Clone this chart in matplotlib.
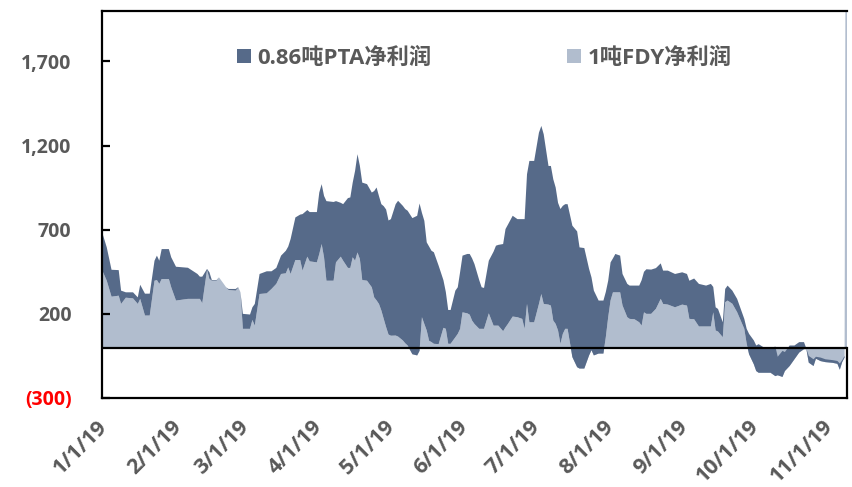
import matplotlib
matplotlib.use("Agg")
import matplotlib.pyplot as plt
import matplotlib.transforms as mtransforms
import pandas as pd
import numpy as np

plt.rcParams['font.family'] = ['Open Sans', 'Noto Sans CJK SC', 'DejaVu Sans']

dates = [
    "2019-01-01", "2019-01-03", "2019-01-05", "2019-01-08", "2019-01-09", "2019-01-11", "2019-01-14", "2019-01-16",
    "2019-01-17", "2019-01-19", "2019-01-21", "2019-01-23", "2019-01-24", "2019-01-25", "2019-01-26", "2019-01-29",
    "2019-01-30", "2019-02-01", "2019-02-06", "2019-02-10", "2019-02-11", "2019-02-12", "2019-02-14", "2019-02-15",
    "2019-02-16", "2019-02-18", "2019-02-19", "2019-02-21", "2019-02-22", "2019-02-23", "2019-02-26", "2019-02-27",
    "2019-02-28", "2019-03-01", "2019-03-04", "2019-03-05", "2019-03-06", "2019-03-08", "2019-03-11", "2019-03-13",
    "2019-03-15", "2019-03-17", "2019-03-19", "2019-03-20", "2019-03-21", "2019-03-23", "2019-03-25", "2019-03-26",
    "2019-03-28", "2019-03-29", "2019-04-01", "2019-04-02", "2019-04-03", "2019-04-04", "2019-04-05", "2019-04-08",
    "2019-04-09", "2019-04-11", "2019-04-12", "2019-04-14", "2019-04-15", "2019-04-16", "2019-04-17", "2019-04-18",
    "2019-04-19", "2019-04-20", "2019-04-22", "2019-04-24", "2019-04-25", "2019-04-26", "2019-04-27", "2019-04-28",
    "2019-04-29", "2019-04-30", "2019-05-01", "2019-05-02", "2019-05-04", "2019-05-05", "2019-05-07", "2019-05-08",
    "2019-05-09", "2019-05-11", "2019-05-13", "2019-05-14", "2019-05-15", "2019-05-16", "2019-05-17", "2019-05-18",
    "2019-05-19", "2019-05-20", "2019-05-22", "2019-05-24", "2019-05-25", "2019-05-26", "2019-05-27", "2019-05-29",
    "2019-05-30", "2019-05-31", "2019-06-01", "2019-06-03", "2019-06-04", "2019-06-05", "2019-06-06", "2019-06-08",
    "2019-06-09", "2019-06-10", "2019-06-12", "2019-06-14", "2019-06-15", "2019-06-16", "2019-06-18", "2019-06-19",
    "2019-06-20", "2019-06-22", "2019-06-24", "2019-06-26", "2019-06-27", "2019-06-28", "2019-06-29", "2019-07-01",
    "2019-07-03", "2019-07-04", "2019-07-05", "2019-07-07", "2019-07-08", "2019-07-09", "2019-07-10", "2019-07-11",
    "2019-07-12", "2019-07-13", "2019-07-14", "2019-07-15", "2019-07-17", "2019-07-19", "2019-07-20", "2019-07-22",
    "2019-07-24", "2019-07-25", "2019-07-26", "2019-07-28", "2019-07-30", "2019-07-31", "2019-08-01", "2019-08-02",
    "2019-08-03", "2019-08-04", "2019-08-06", "2019-08-07", "2019-08-09", "2019-08-10", "2019-08-12", "2019-08-14",
    "2019-08-15", "2019-08-16", "2019-08-17", "2019-08-19", "2019-08-21", "2019-08-23", "2019-08-24", "2019-08-26",
    "2019-08-29", "2019-09-01", "2019-09-03", "2019-09-04", "2019-09-06", "2019-09-08", "2019-09-11", "2019-09-13",
    "2019-09-14", "2019-09-15", "2019-09-16", "2019-09-18", "2019-09-19", "2019-09-20", "2019-09-22", "2019-09-24",
    "2019-09-27", "2019-09-28", "2019-09-29", "2019-10-01", "2019-10-02", "2019-10-03", "2019-10-06", "2019-10-08",
    "2019-10-10", "2019-10-11", "2019-10-13", "2019-10-14", "2019-10-16", "2019-10-18", "2019-10-20", "2019-10-22",
    "2019-10-23", "2019-10-24", "2019-10-26", "2019-10-27", "2019-10-29", "2019-10-31", "2019-11-03", "2019-11-05",
    "2019-11-06", "2019-11-07", "2019-11-08", "2019-11-09",
]

fdy_profit = [
    462, 397, 302, 308, 259, 296, 292, 259, 289, 190, 190, 397, 401, 378, 407, 407,
    358, 279, 289, 289, 289, 263, 461, 407, 397, 397, 417, 378, 358, 342, 338, 354,
    328, 111, 111, 164, 130, 318, 322, 348, 378, 437, 441, 476, 437, 520, 520, 457,
    540, 512, 506, 556, 615, 536, 397, 397, 506, 540, 516, 473, 473, 536, 516, 565,
    526, 401, 397, 358, 298, 280, 259, 220, 170, 121, 77, 70, 71, 65, 42, 25,
    12, -40, -47, -20, 180, 140, 101, 40, 32, 22, 20, 117, 111, 22, 22, 61,
    81, 111, 209, 203, 195, 160, 140, 111, 111, 111, 203, 130, 130, 130, 97, 120,
    140, 184, 180, 170, 111, 259, 150, 150, 259, 318, 259, 255, 249, 160, 140, 101,
    22, 81, 111, 111, -57, -117, -125, -125, -47, -16, -47, -36, -36, 61, 180, 280,
    328, 328, 328, 250, 180, 170, 168, 150, 130, 209, 200, 200, 230, 289, 259, 255,
    239, 255, 249, 170, 168, 125, 125, 125, 209, 101, 95, 61, 269, 279, 260, 210,
    111, 22, -40, -100, -140, -150, -150, -150, -170, -165, -175, -140, -110, -70, -30, -10,
    -10, -90, -110, -67, -81, -87, -91, -97, -132, -87, -60, 6000,
]

pta_profit = [
    226, 198, 160, 152, 79, 32, 36, 39, 84, 130, 130, 119, 145, 138, 178, 178,
    178, 201, 185, 148, 132, 158, 6, 40, 4, 4, 0, 0, 0, 6, 10, 4,
    0, 89, 85, 75, 129, 119, 131, 105, 95, 109, 134, 124, 208, 253, 270, 336,
    277, 293, 299, 365, 356, 365, 473, 468, 364, 320, 336, 415, 419, 444, 534, 584,
    554, 579, 574, 563, 632, 671, 641, 632, 670, 699, 678, 693, 781, 807, 800, 798,
    801, 809, 830, 876, 620, 613, 524, 560, 543, 544, 466, 283, 219, 201, 201, 277,
    277, 339, 337, 353, 361, 370, 356, 289, 247, 243, 313, 440, 475, 480, 518, 584,
    590, 599, 583, 593, 652, 771, 959, 959, 1018, 999, 1008, 824, 830, 840, 811, 759,
    801, 761, 741, 741, 781, 807, 720, 716, 514, 433, 385, 315, 315, 269, 217, 226,
    202, 228, 218, 187, 198, 198, 200, 218, 270, 241, 265, 263, 242, 211, 198, 202,
    198, 192, 188, 227, 242, 253, 243, 253, 151, 138, 134, 89, 79, 89, 78, 79,
    59, 89, 121, 142, 152, 170, 143, 143, 176, 110, 155, 113, 122, 82, 62, 42,
    3, 40, 40, 12, 21, 17, 16, 17, 37, 12, 10, 0,
]

series_names = ["0.86吨PTA净利润", "1吨FDY净利润"]
y_ticks = [-300, 200, 700, 1200, 1700]
y_tick_labels = ["(300)", "200", "700", "1,200", "1,700"]
x_ticks = ["2019-01-01", "2019-02-01", "2019-03-01", "2019-04-01", "2019-05-01", "2019-06-01",
           "2019-07-01", "2019-08-01", "2019-09-01", "2019-10-01", "2019-11-01"]
x_tick_labels = ["1/1/19", "2/1/19", "3/1/19", "4/1/19", "5/1/19", "6/1/19",
                 "7/1/19", "8/1/19", "9/1/19", "10/1/19", "11/1/19"]

DARK = "#566A89"
LIGHT = "#B1BDCE"
GREY = "#595959"

x = pd.to_datetime(dates)

fig = plt.figure(figsize=(8.52, 4.87), dpi=100)
ax = fig.add_axes([0.1197, 0.1828, 0.8744, 0.7946])

ax.stackplot(x, fdy_profit, pta_profit, colors=[LIGHT, DARK],
             labels=[series_names[1], series_names[0]], linewidth=0)

ax.axhline(0, color="black", linewidth=1.6, zorder=5)

ax.set_ylim(-300, 2000)
ax.set_xlim(x[0], x[-1])
ax.set_yticks(y_ticks)
ax.set_yticklabels(y_tick_labels)
neg_shift = mtransforms.ScaledTranslation(6 / 100, 0, fig.dpi_scale_trans)
for lab in ax.get_yticklabels():
    lab.set_fontweight("bold")
    lab.set_fontsize(14)
    if lab.get_text().startswith("("):
        lab.set_color("red")
        lab.set_transform(lab.get_transform() + neg_shift)
    else:
        lab.set_color(GREY)
ax.tick_params(axis="y", direction="in", length=6, width=1.6, pad=22)

ax.set_xticks(pd.to_datetime(x_ticks))
ax.set_xticklabels(x_tick_labels, rotation=45, ha="right", rotation_mode="anchor",
                   fontweight="bold", fontsize=15.5, color=GREY)
ax.tick_params(axis="x", length=0, pad=13)
shift = mtransforms.ScaledTranslation(-5 / 100, 0, fig.dpi_scale_trans)
for lab in ax.get_xticklabels():
    lab.set_transform(lab.get_transform() + shift)

for s in ["left", "top", "bottom", "right"]:
    ax.spines[s].set_linewidth(1.6)
    ax.spines[s].set_color("black")
    ax.spines[s].set_zorder(6)
ax.spines["right"].set_bounds(-300, 0)

handles, labels = ax.get_legend_handles_labels()
leg = ax.legend(handles[::-1], labels[::-1], loc="upper left", bbox_to_anchor=(0.181, 0.905),
                ncol=2, frameon=False, borderpad=0, borderaxespad=0,
                handlelength=0.62, handleheight=0.62,
                handletextpad=0.3, columnspacing=6.1,
                prop={"weight": "bold", "size": 16})
for t in leg.get_texts():
    t.set_color(GREY)

fig.savefig("out.png", dpi=100)
